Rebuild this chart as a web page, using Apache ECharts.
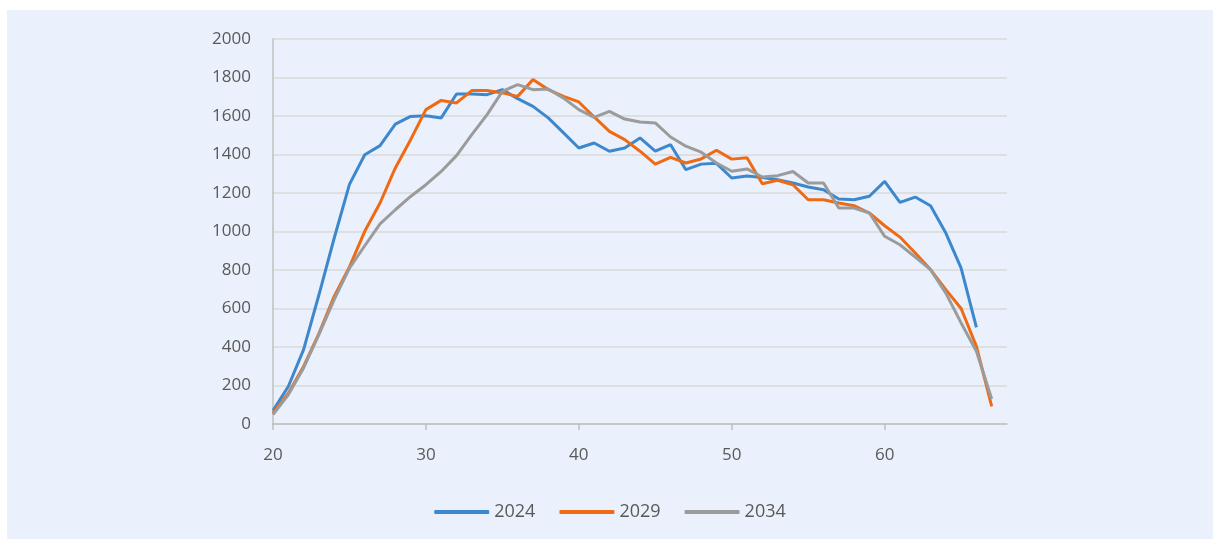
<!DOCTYPE html>
<html>
<head>
<meta charset="utf-8">
<script src="https://cdn.jsdelivr.net/npm/echarts@6/dist/echarts.min.js"></script>
<style>
  html, body { margin: 0; padding: 0; background: #ffffff; }
  .chart-wrapper { position: relative; width: 1213px; height: 539px; }
  #age-chart {
    position: absolute;
    left: 7px;
    top: 10px;
    width: 1206px;
    height: 529px;
    background: #eaf1fc;
  }
</style>
</head>
<body>
<div class="chart-wrapper">
  <div id="age-chart"></div>
</div>
<script>
// ages 20..67
const ages = [];
for (let a = 20; a <= 67; a++) ages.push(a);

const xTicks = [20, 30, 40, 50, 60];
const seriesNames = ['2024', '2029', '2034'];

const values2024 = [
  70, 195, 386, 670, 965, 1245, 1399, 1446, 1558, 1598,
  1601, 1590, 1714, 1714, 1711, 1737, 1690, 1650, 1590, 1512,
  1434, 1460, 1417, 1434, 1486, 1417, 1451, 1321, 1350, 1354,
  1278, 1288, 1281, 1269, 1252, 1231, 1217, 1169, 1165, 1183,
  1260, 1151, 1179, 1134, 992, 810, 502,
];

const values2029 = [
  57, 160, 299, 470, 663, 816, 1001, 1148, 1330, 1477,
  1633, 1681, 1668, 1732, 1732, 1720, 1702, 1789, 1737, 1702,
  1673, 1595, 1520, 1477, 1417, 1350, 1385, 1356, 1377, 1422,
  1376, 1383, 1248, 1266, 1243, 1165, 1165, 1148, 1134, 1096,
  1030, 971, 888, 802, 698, 600, 403, 92,
];

const values2034 = [
  49, 152, 291, 464, 646, 810, 926, 1040, 1113, 1182,
  1243, 1312, 1394, 1503, 1607, 1728, 1763, 1737, 1740, 1693,
  1633, 1593, 1624, 1584, 1569, 1564, 1491, 1443, 1412, 1356,
  1313, 1325, 1283, 1290, 1312, 1252, 1252, 1122, 1122, 1096,
  975, 931, 867, 802, 680, 525, 378, 130,
];

const colors = ['#3d88cd', '#ee6a13', '#9b9b9b'];
const textColor = '#595959';

const toPairs = (vals) => vals.map((v, i) => [ages[i], v]);

const chartInstance = echarts.init(document.getElementById('age-chart'));

const option = {
  animation: false,
  color: colors,
  textStyle: { fontFamily: 'Open Sans', color: textColor },
  grid: {
    left: 266,
    right: 206,
    top: 29,
    bottom: 115,
  },
  legend: {
    bottom: 13,
    left: 'center',
    icon: 'roundRect',
    itemWidth: 55,
    itemHeight: 4,
    itemGap: 24,
    textStyle: { fontSize: 18, color: textColor },
    data: seriesNames,
  },
  xAxis: {
    type: 'value',
    min: 20,
    max: 68,
    interval: 10,
    splitLine: { show: false },
    axisLine: { show: true, lineStyle: { color: '#bfbfbf', width: 1.5 } },
    axisTick: {
      show: true,
      length: 6,
      customValues: xTicks,
      lineStyle: { color: '#bfbfbf', width: 1.5 },
    },
    axisLabel: {
      fontSize: 17,
      color: textColor,
      margin: 23,
      customValues: xTicks,
    },
  },
  yAxis: {
    type: 'value',
    min: 0,
    max: 2000,
    interval: 200,
    axisLine: { show: true, lineStyle: { color: '#bfbfbf', width: 1.5 } },
    axisTick: { show: false },
    splitLine: { lineStyle: { color: '#d9d9d9', width: 1.5 } },
    axisLabel: { fontSize: 17, color: textColor, margin: 22, formatter: (v) => String(v) },
  },
  series: [
    { name: '2024', type: 'line', symbol: 'none', data: toPairs(values2024), lineStyle: { width: 3 } },
    { name: '2029', type: 'line', symbol: 'none', data: toPairs(values2029), lineStyle: { width: 3 } },
    { name: '2034', type: 'line', symbol: 'none', data: toPairs(values2034), lineStyle: { width: 3 } },
  ],
};

chartInstance.setOption(option);
</script>
</body>
</html>
